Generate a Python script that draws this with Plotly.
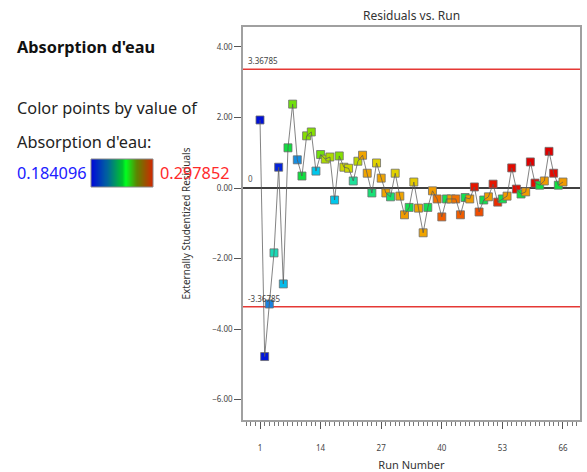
import plotly.graph_objects as go

# Run order, externally studentized residuals and the response used for colouring
runs = list(range(1, 67))
residuals = [
    1.93, -4.78, -3.29, -1.84, 0.59, -2.72, 1.14, 2.38, 0.80, 0.34,
    1.48, 1.59, 0.48, 0.95, 0.82, 0.88, -0.34, 0.91, 0.59, 0.56,
    0.20, 0.76, 0.93, 0.42, -0.14, 0.71, 0.28, -0.14, -0.25, 0.42,
    -0.23, -0.76, -0.55, 0.17, -0.57, -1.27, -0.55, -0.08, -0.31, -0.82,
    -0.31, -0.31, -0.31, -0.76, -0.27, -0.31, 0.03, -0.68, -0.34, -0.25,
    0.11, -0.40, -0.31, -0.23, 0.57, -0.03, -0.17, -0.11, 0.74, 0.14,
    0.08, 0.20, 1.04, 0.42, 0.08, 0.17,
]
absorption = [
    0.1841, 0.1850, 0.1980, 0.2180, 0.1865, 0.2070, 0.2320, 0.2410, 0.2000, 0.2320,
    0.2430, 0.2430, 0.2090, 0.2410, 0.2480, 0.2480, 0.2090, 0.2430, 0.2520, 0.2520,
    0.2220, 0.2500, 0.2660, 0.2660, 0.2260, 0.2550, 0.2660, 0.2660, 0.2270, 0.2550,
    0.2660, 0.2680, 0.2300, 0.2570, 0.2660, 0.2660, 0.2300, 0.2680, 0.2770, 0.2810,
    0.2300, 0.2680, 0.2770, 0.2810, 0.2300, 0.2680, 0.2940, 0.2840, 0.2300, 0.2680,
    0.2940, 0.2900, 0.2300, 0.2680, 0.2960, 0.2960, 0.2320, 0.2680, 0.2979, 0.2960,
    0.2320, 0.2680, 0.2979, 0.2960, 0.2320, 0.2680,
]
abs_min = 0.184096
abs_max = 0.297852
limit = 3.36785

x_ticks = [1, 14, 27, 40, 53, 66]
y_ticks = [-6, -4, -2, 0, 2, 4]

point_scale = [
    [0.00, "#0010d8"], [0.12, "#1a80e0"], [0.22, "#00c8ec"], [0.32, "#20e0a8"],
    [0.42, "#10e040"], [0.52, "#88e000"], [0.62, "#e0d400"], [0.72, "#f0a400"],
    [0.82, "#f07000"], [0.90, "#f04000"], [1.00, "#e00000"],
]
bar_scale = [
    [0.00, "#0008d8"], [0.25, "#0060a0"], [0.50, "#00c030"], [0.56, "#00ff20"],
    [0.75, "#608000"], [1.00, "#d02800"],
]

W, H = 587, 472
ML, MR, MT, MB = 0, 7, 27, 52
PW = W - ML - MR
PH = H - MT - MB
FRAME_L = 243
X_RANGE = [-2.65, 69.65]
X_DOMAIN = [(FRAME_L - ML) / PW, 1]


def px_x(p):
    return (p - ML) / PW


def px_y(p):
    return (H - MB - p) / PH


font = "Noto Sans, Open Sans, sans-serif"

fig = go.Figure()

fig.add_trace(go.Scatter(
    x=runs, y=residuals, mode="markers",
    marker=dict(symbol="square", size=8, color=absorption, cmin=abs_min, cmax=abs_max,
                colorscale=point_scale, showscale=False,
                line=dict(color="rgba(110,110,110,0.8)", width=1)),
    hoverinfo="x+y", showlegend=False,
))
fig.add_trace(go.Scatter(
    x=runs, y=residuals, mode="lines",
    line=dict(color="rgba(90,90,90,0.75)", width=1),
    hoverinfo="skip", showlegend=False,
))

# gradient strip for the colour key
steps = 120
fig.add_trace(go.Heatmap(
    z=[[i / (steps - 1) for i in range(steps)]],
    colorscale=bar_scale, showscale=False, xaxis="x2", yaxis="y2", hoverinfo="skip",
))

# invisible trace so the label axis is drawn
fig.add_trace(go.Scatter(x=[runs[0]], y=[residuals[0]], xaxis="x4", yaxis="y",
                         mode="markers", marker=dict(opacity=0), hoverinfo="skip",
                         showlegend=False))

fig.update_layout(
    width=W, height=H,
    margin=dict(l=ML, r=MR, t=MT, b=MB, autoexpand=False),
    paper_bgcolor="white", plot_bgcolor="white",
    font=dict(family=font, color="#333"),
    # frame, major ticks and one-per-run minor ticks
    xaxis=dict(
        domain=X_DOMAIN, range=X_RANGE, showgrid=False, zeroline=False,
        tickmode="linear", tick0=x_ticks[0], dtick=x_ticks[1] - x_ticks[0],
        ticks="outside", ticklen=7, tickcolor="#555", showticklabels=False,
        minor=dict(tick0=x_ticks[0], dtick=1, ticks="outside", ticklen=4, tickcolor="#777",
                   showgrid=False),
        showline=True, mirror=True, linecolor="#a0a0a0", linewidth=1.5,
    ),
    # run labels, set lower with transparent long ticks
    xaxis4=dict(
        domain=X_DOMAIN, range=X_RANGE, showgrid=False, zeroline=False,
        overlaying="x", anchor="y", side="bottom", tickmode="array", tickvals=x_ticks,
        ticks="outside", ticklen=20, tickcolor="rgba(0,0,0,0)", showline=False,
        tickfont=dict(size=8, color="#444"),
        title=dict(text="Run Number", font=dict(size=11, color="#333"), standoff=16),
    ),
    yaxis=dict(
        range=[-6.58, 4.567],
        tickmode="array", tickvals=y_ticks, tickformat=".2f",
        ticks="outside", ticklen=7, tickcolor="#555",
        showgrid=False, zeroline=False, showline=True, mirror=True,
        linecolor="#a0a0a0", linewidth=1.5,
        tickfont=dict(size=8, color="#444"),
        title=dict(text="Externally Studentized Residuals", font=dict(size=10, color="#333"),
                   standoff=20),
    ),
    xaxis2=dict(domain=[px_x(91), px_x(153)], visible=False, anchor="y2"),
    yaxis2=dict(domain=[px_y(187), px_y(159)], visible=False, anchor="x2"),
)

# zero line and limit lines
fig.add_shape(type="line", xref="x domain", yref="y", x0=0, x1=1, y0=0, y1=0,
              line=dict(color="#404040", width=2), layer="below")
for v in (limit, -limit):
    fig.add_shape(type="line", xref="x domain", yref="y", x0=0, x1=1, y0=v, y1=v,
                  line=dict(color="#e53935", width=1.5), layer="below")
    fig.add_annotation(xref="x domain", yref="y", x=0.01, y=v, text=f"{v:.5f}".rstrip("0"),
                       showarrow=False, xanchor="left", yanchor="bottom", yshift=1,
                       font=dict(size=8, color="#444"))
fig.add_annotation(xref="x domain", yref="y", x=0.01, y=0, text="0", showarrow=False,
                   xanchor="left", yanchor="bottom", yshift=2, font=dict(size=8, color="#555"))

# colour key border
fig.add_shape(type="rect", xref="x2 domain", yref="y2 domain", x0=0, x1=1, y0=0, y1=1,
              line=dict(color="#888", width=1))


def note(x, y, text, size, color, anchor="left"):
    fig.add_annotation(xref="paper", yref="paper", x=px_x(x), y=px_y(y), text=text,
                       showarrow=False, xanchor=anchor, yanchor="middle",
                       font=dict(size=size, color=color))


# chart title
note(411, 16, "Residuals vs. Run", 12, "#333", anchor="center")

# left-hand description
note(15, 47, "<b>Absorption d'eau</b>", 16.3, "#111")
note(15, 108, "Color points by value of", 16.3, "#222")
note(15, 142, "Absorption d'eau:", 16.3, "#222")
note(15, 173, f"{abs_min:g}", 16.3, "#2020ff")
note(158, 173, f"{abs_max:g}", 16.3, "#ff2a2a")

fig.write_html("out.html")
